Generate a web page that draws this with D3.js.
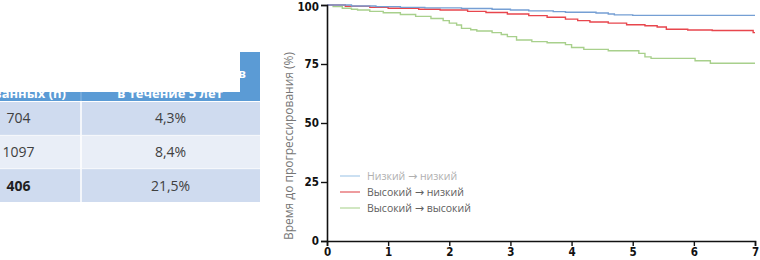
<!DOCTYPE html>
<html>
<head>
<meta charset="utf-8">
<script src="https://cdn.jsdelivr.net/npm/d3@7"></script>
<style>
  body { margin: 0; background: #fff; }
  svg { display: block; }
</style>
</head>
<body>
<svg id="chart" width="760" height="260"></svg>
<script>
(function() {

  'use strict'

  // Table rows (left part, cropped).
  var tableCounts  = ['704', '1097', '406'];
  var tableRates   = ['4,3%', '8,4%', '21,5%'];
  var tableHeader1 = ['обследованных (n)'];
  var tableHeader2 = ['Количество рецидивов', 'в течение 5 лет'];

  // Kaplan-Meier curves.
  var seriesFrom = ['Низкий', 'Высокий', 'Высокий'];
  var seriesTo   = ['низкий', 'низкий', 'высокий'];
  var lowLowT  = [0, 0.4, 0.8, 1.2, 1.6, 2.2, 2.7, 3.0, 3.3, 3.7, 3.9, 4.4, 4.6, 4.7, 5.0, 7.0];
  var lowLowS  = [100, 99.6, 99.3, 99.0, 98.8, 98.5, 98.2, 97.9, 97.5, 97.2, 96.9, 96.6, 96.2, 95.8, 95.6, 95.6];
  var highLowT = [0, 0.3, 0.7, 1.0, 1.5, 1.85, 2.3, 2.6, 2.95, 3.3, 3.6, 3.9, 4.1, 4.3, 4.6, 4.9, 5.2, 5.4, 5.55, 5.9, 6.3, 6.97, 7.0];
  var highLowS = [100, 99.5, 99.0, 98.6, 98.2, 97.9, 97.3, 96.8, 96.2, 95.5, 94.8, 94.0, 93.4, 92.8, 92.3, 91.6, 91.2, 90.7, 89.7, 89.4, 89.2, 88.3, 88.3];
  var highHighT = [0, 0.1, 0.25, 0.4, 0.5, 0.7, 0.92, 1.2, 1.45, 1.7, 1.9, 2.0, 2.12, 2.2, 2.35, 2.45, 2.7, 2.85, 2.95, 3.1, 3.35, 3.6, 3.9, 4.0, 4.2, 4.6, 5.1, 5.2, 5.3, 6.02, 6.27, 7.0];
  var highHighS = [100, 99.3, 98.6, 98.2, 97.9, 97.3, 96.7, 96.0, 95.2, 94.3, 93.4, 92.3, 91.5, 90.1, 89.5, 89.0, 88.3, 87.5, 86.6, 85.2, 84.5, 84.0, 83.2, 82.0, 81.2, 80.6, 79.5, 78.0, 77.4, 76.4, 75.3, 75.3];
  var xTicks = [0, 1, 2, 3, 4, 5, 6, 7];
  var yTicks = [0, 25, 50, 75, 100];
  var yTitle = 'Время до прогрессирования (%)';

  var colors = ['#759fd4', '#e8464d', '#a8d08c'];
  var legendColors = ['#a9cbe9', '#e35a5e', '#b3d79a'];

  var svg = d3.select('#chart');

  // ---- table ----
  var tbl = svg.append('g').attr('font-family', '"Open Sans", sans-serif');
  var colX = [-44, 81, 260];
  tbl.append('rect').attr('x', 0).attr('y', 52).attr('width', 260).attr('height', 49).attr('fill', '#5b9bd5');
  tbl.selectAll('text.h1').data(tableHeader1).enter().append('text')
     .attr('x', 66).attr('y', 98).attr('text-anchor', 'end')
     .attr('fill', '#fff').attr('font-size', 13).attr('font-weight', 'bold')
     .text(function(d) { return d; });
  tbl.selectAll('text.h2').data(tableHeader2).enter().append('text')
     .attr('x', 170).attr('y', function(d, i) { return 78 + i * 20; }).attr('text-anchor', 'middle')
     .attr('fill', '#fff').attr('font-weight', 'bold')
     .attr('font-size', function(d, i) { return i === 0 ? 12.3 : 13; })
     .text(function(d) { return d; });
  // white patch over the header, as in the picture
  tbl.append('rect').attr('x', 0).attr('y', 50).attr('width', 240).attr('height', 42).attr('fill', '#fff');

  var rowY = d3.scaleBand().domain(d3.range(tableCounts.length)).range([102, 202]).paddingInner(0.02);
  var rows = tbl.selectAll('g.row').data(tableCounts).enter().append('g')
                .attr('transform', function(d, i) { return 'translate(0,' + rowY(i) + ')'; });
  rows.append('rect').attr('x', 0).attr('width', 260).attr('height', rowY.bandwidth())
      .attr('fill', function(d, i) { return i % 2 ? '#e9eef7' : '#cfdbef'; });
  rows.append('line').attr('x1', colX[1]).attr('x2', colX[1]).attr('y1', 0).attr('y2', rowY.bandwidth())
      .attr('stroke', '#fff').attr('stroke-width', 1.5);
  rows.append('text').attr('x', (colX[0] + colX[1]) / 2).attr('y', rowY.bandwidth() / 2 + 5)
      .attr('text-anchor', 'middle').attr('font-size', 14)
      .attr('font-weight', function(d, i) { return i === 2 ? 'bold' : 'normal'; })
      .attr('fill', function(d, i) { return i === 2 ? '#1f1f1f' : '#404040'; })
      .text(function(d) { return d; });
  rows.append('text').attr('x', (colX[1] + colX[2]) / 2).attr('y', rowY.bandwidth() / 2 + 5)
      .attr('text-anchor', 'middle').attr('font-size', 14).attr('fill', '#404040')
      .text(function(d, i) { return tableRates[i]; });
  tbl.append('line').attr('x1', colX[1]).attr('x2', colX[1]).attr('y1', 92).attr('y2', 101)
     .attr('stroke', '#8db8e2').attr('stroke-width', 1);

  // ---- chart ----
  var x = d3.scaleLinear().domain([0, 7]).range([327, 755]);
  var y = d3.scaleLinear().domain([0, 100]).range([241, 5]);
  var tickFont = '"Liberation Sans Narrow", "Arial Narrow", "DejaVu Sans Condensed", sans-serif';

  var series = [
    { t: lowLowT,   s: lowLowS },
    { t: highLowT,  s: highLowS },
    { t: highHighT, s: highHighS }
  ];
  var line = d3.line()
               .x(function(d) { return x(d[0]); })
               .y(function(d) { return y(d[1]); })
               .curve(d3.curveStepAfter);

  // draw green first so blue and red sit on top
  [2, 1, 0].forEach(function(k) {
    var pts = series[k].t.map(function(t, i) { return [t, series[k].s[i]]; });
    svg.append('path').datum(pts)
       .attr('d', line).attr('fill', 'none')
       .attr('stroke', colors[k]).attr('stroke-width', 1.4);
  });

  var xAxis = svg.append('g').attr('transform', 'translate(0,241)')
                 .call(d3.axisBottom(x).tickValues(xTicks).tickFormat(d3.format('d'))
                         .tickSizeOuter(0).tickSize(5).tickPadding(2));
  var yAxis = svg.append('g').attr('transform', 'translate(327,0)')
                 .call(d3.axisLeft(y).tickValues(yTicks).tickFormat(d3.format('d'))
                         .tickSizeOuter(0).tickSize(6).tickPadding(2));
  [xAxis, yAxis].forEach(function(a) {
    a.select('.domain').attr('stroke', '#111').attr('stroke-width', 1.6);
    a.selectAll('.tick line').attr('stroke', '#111').attr('stroke-width', 1.4);
    a.selectAll('.tick text').attr('fill', '#111').attr('font-family', tickFont)
     .attr('font-size', 11.5).attr('font-weight', 'bold');
  });
  yAxis.select('.tick:last-of-type text').attr('dy', '0.45em');

  svg.append('text')
     .attr('transform', 'translate(293,146) rotate(-90)')
     .attr('text-anchor', 'middle')
     .attr('font-family', '"Open Sans", sans-serif').attr('font-size', 12)
     .attr('fill', '#777')
     .text(yTitle);

  // legend
  var leg = svg.append('g').attr('font-family', '"Open Sans", sans-serif');
  var legItems = leg.selectAll('g').data(seriesFrom).enter().append('g')
                    .attr('transform', function(d, i) { return 'translate(340,' + (176 + i * 16) + ')'; });
  legItems.append('line').attr('x1', 0).attr('x2', 20).attr('y1', 0).attr('y2', 0)
          .attr('stroke', function(d, i) { return legendColors[i]; }).attr('stroke-width', 1.2);
  var lt = legItems.append('text').attr('x', 27).attr('y', 4).attr('font-size', 10.5)
          .attr('fill', function(d, i) { return i === 0 ? '#b0b0b0' : '#606060'; });
  lt.append('tspan').text(function(d) { return d + ' '; });
  lt.append('tspan').attr('font-family', '"DejaVu Sans", sans-serif').attr('font-size', 11).text('→');
  lt.append('tspan').text(function(d, i) { return ' ' + seriesTo[i]; });

})();
</script>
</body>
</html>
